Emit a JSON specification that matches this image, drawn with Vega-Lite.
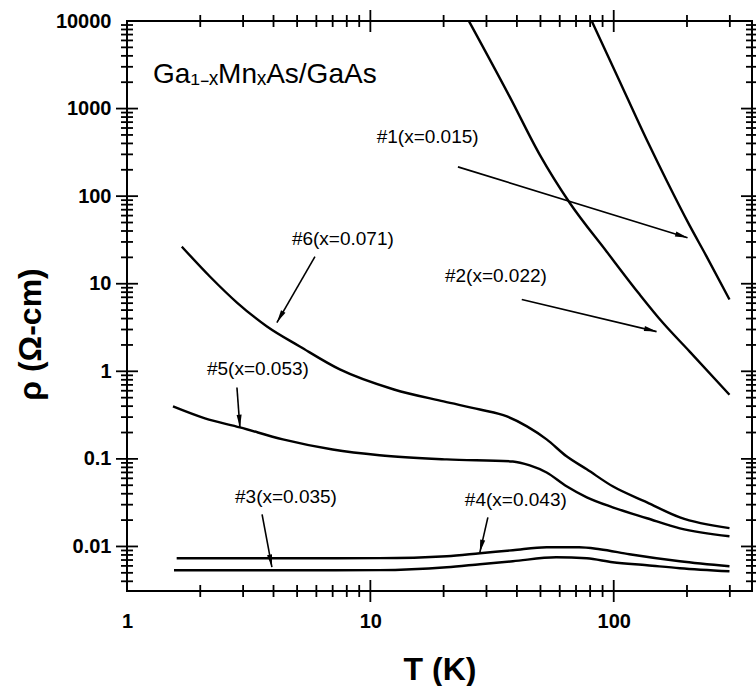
{
  "$schema": "https://vega.github.io/schema/vega-lite/v6.json",
  "width": 625,
  "height": 570,
  "autosize": {"type": "none"},
  "padding": {"left": 127, "top": 21, "right": 4, "bottom": 95},
  "background": "white",
  "config": {
    "view": {"stroke": "black", "strokeWidth": 2},
    "axis": {
      "domain": false, "ticks": false, "tickSize": 0,
      "grid": false, "labelFont": "Liberation Sans", "labelFontWeight": "bold", "labelFontSize": 20,
      "labelColor": "black", "labelFlush": false, "labelOverlap": false, "labelBound": false,
      "titleFont": "Liberation Sans", "titleFontSize": 32, "titleFontWeight": "bold", "titleColor": "black"
    }
  },
  "datasets": {
    "curves": [
      {"s": "1", "T": 81.2, "rho": 10000}, {"s": "1", "T": 103.8, "rho": 2298}, {"s": "1", "T": 137.9, "rho": 417},
      {"s": "1", "T": 165.1, "rho": 149.8}, {"s": "1", "T": 205.2, "rho": 46.0}, {"s": "1", "T": 240.9, "rho": 20.4},
      {"s": "1", "T": 299, "rho": 6.6},
      {"s": "2", "T": 25.4, "rho": 10000}, {"s": "2", "T": 37.4, "rho": 1360}, {"s": "2", "T": 49.7, "rho": 296},
      {"s": "2", "T": 65.9, "rho": 84.1}, {"s": "2", "T": 93.6, "rho": 23.2}, {"s": "2", "T": 127.9, "rho": 7.51},
      {"s": "2", "T": 158.9, "rho": 3.6}, {"s": "2", "T": 205.2, "rho": 1.68}, {"s": "2", "T": 299, "rho": 0.54},
      {"s": "6", "T": 1.68, "rho": 26.5}, {"s": "6", "T": 2.19, "rho": 12.1}, {"s": "6", "T": 2.83, "rho": 6.1},
      {"s": "6", "T": 3.76, "rho": 3.25}, {"s": "6", "T": 5.13, "rho": 1.92}, {"s": "6", "T": 7.49, "rho": 1.05},
      {"s": "6", "T": 12.5, "rho": 0.62}, {"s": "6", "T": 20, "rho": 0.453}, {"s": "6", "T": 28.2, "rho": 0.366},
      {"s": "6", "T": 36.4, "rho": 0.305}, {"s": "6", "T": 44, "rho": 0.235}, {"s": "6", "T": 53, "rho": 0.167},
      {"s": "6", "T": 64, "rho": 0.107}, {"s": "6", "T": 77.5, "rho": 0.076}, {"s": "6", "T": 99, "rho": 0.0486},
      {"s": "6", "T": 137, "rho": 0.0319}, {"s": "6", "T": 187, "rho": 0.0215}, {"s": "6", "T": 299, "rho": 0.0162},
      {"s": "5", "T": 1.545, "rho": 0.397}, {"s": "5", "T": 2.09, "rho": 0.29}, {"s": "5", "T": 2.91, "rho": 0.229},
      {"s": "5", "T": 4.37, "rho": 0.167}, {"s": "5", "T": 7.0, "rho": 0.128}, {"s": "5", "T": 10.9, "rho": 0.11},
      {"s": "5", "T": 20.6, "rho": 0.0986}, {"s": "5", "T": 38.5, "rho": 0.0935}, {"s": "5", "T": 45.2, "rho": 0.0843},
      {"s": "5", "T": 53, "rho": 0.07}, {"s": "5", "T": 64, "rho": 0.0486}, {"s": "5", "T": 77.5, "rho": 0.0364},
      {"s": "5", "T": 99, "rho": 0.028}, {"s": "5", "T": 137, "rho": 0.021}, {"s": "5", "T": 187, "rho": 0.0161},
      {"s": "5", "T": 299, "rho": 0.0131},
      {"s": "4", "T": 1.6, "rho": 0.00733}, {"s": "4", "T": 5, "rho": 0.00733}, {"s": "4", "T": 10.9, "rho": 0.00735},
      {"s": "4", "T": 20.6, "rho": 0.00773}, {"s": "4", "T": 28.2, "rho": 0.00836}, {"s": "4", "T": 38.5, "rho": 0.00906},
      {"s": "4", "T": 53, "rho": 0.0098}, {"s": "4", "T": 72, "rho": 0.0098}, {"s": "4", "T": 87.6, "rho": 0.0093},
      {"s": "4", "T": 116, "rho": 0.00815}, {"s": "4", "T": 187, "rho": 0.00678}, {"s": "4", "T": 299, "rho": 0.00594},
      {"s": "3", "T": 1.56, "rho": 0.00535}, {"s": "3", "T": 5, "rho": 0.00535}, {"s": "3", "T": 10.9, "rho": 0.00537},
      {"s": "3", "T": 20.6, "rho": 0.00579}, {"s": "3", "T": 28.2, "rho": 0.00627}, {"s": "3", "T": 38.5, "rho": 0.00678},
      {"s": "3", "T": 58, "rho": 0.00753}, {"s": "3", "T": 77.5, "rho": 0.00733}, {"s": "3", "T": 99, "rho": 0.0066},
      {"s": "3", "T": 137, "rho": 0.0061}, {"s": "3", "T": 187, "rho": 0.00564}, {"s": "3", "T": 299, "rho": 0.0052}
    ],
    "arrows": [
      {"id": "1", "T1": 22.9, "r1": 216, "T2": 201, "r2": 33.5},
      {"id": "2", "T1": 41.9, "r1": 6.59, "T2": 150, "r2": 2.84},
      {"id": "6", "T1": 5.92, "r1": 20.4, "T2": 4.13, "r2": 3.6},
      {"id": "5", "T1": 2.83, "r1": 0.653, "T2": 2.91, "r2": 0.229},
      {"id": "3", "T1": 3.59, "r1": 0.0233, "T2": 3.94, "r2": 0.0058},
      {"id": "4", "T1": 30.4, "r1": 0.0215, "T2": 28.2, "r2": 0.0086}
    ],
    "heads": [
      {"id": "1", "T": 189, "rho": 35.4, "ang": 107.2},
      {"id": "2", "T": 140.8, "rho": 2.97, "ang": 103.3},
      {"id": "6", "T": 4.27, "rho": 4.23, "ang": 209.9},
      {"id": "5", "T": 2.9, "rho": 0.275, "ang": 175.7},
      {"id": "3", "T": 3.89, "rho": 0.00695, "ang": 169.3},
      {"id": "4", "T": 28.6, "rho": 0.01026, "ang": 192.9}
    ],
    "labels": [
      {"txt": "#1(x=0.015)", "T": 17.2, "rho": 476},
      {"txt": "#2(x=0.022)", "T": 32.8, "rho": 12.4},
      {"txt": "#6(x=0.071)", "T": 7.71, "rho": 32.7},
      {"txt": "#5(x=0.053)", "T": 3.45, "rho": 1.05},
      {"txt": "#3(x=0.035)", "T": 4.5, "rho": 0.0364},
      {"txt": "#4(x=0.043)", "T": 39.6, "rho": 0.0336}
    ],
    "title": [{"txt": "Ga₁₋ₓMnₓAs/GaAs", "T": 1.28, "rho": 1963}],
    "xminor": [{"v": 2}, {"v": 3}, {"v": 4}, {"v": 5}, {"v": 6}, {"v": 7}, {"v": 8}, {"v": 9},
      {"v": 20}, {"v": 30}, {"v": 40}, {"v": 50}, {"v": 60}, {"v": 70}, {"v": 80}, {"v": 90}, {"v": 200}, {"v": 300}],
    "xmajor": [{"v": 10}, {"v": 100}],
    "yminor": [{"v": 0.004}, {"v": 0.005}, {"v": 0.006}, {"v": 0.007}, {"v": 0.008}, {"v": 0.009},
      {"v": 0.02}, {"v": 0.03}, {"v": 0.04}, {"v": 0.05}, {"v": 0.06}, {"v": 0.07}, {"v": 0.08}, {"v": 0.09},
      {"v": 0.2}, {"v": 0.3}, {"v": 0.4}, {"v": 0.5}, {"v": 0.6}, {"v": 0.7}, {"v": 0.8}, {"v": 0.9},
      {"v": 2}, {"v": 3}, {"v": 4}, {"v": 5}, {"v": 6}, {"v": 7}, {"v": 8}, {"v": 9},
      {"v": 20}, {"v": 30}, {"v": 40}, {"v": 50}, {"v": 60}, {"v": 70}, {"v": 80}, {"v": 90},
      {"v": 200}, {"v": 300}, {"v": 400}, {"v": 500}, {"v": 600}, {"v": 700}, {"v": 800}, {"v": 900},
      {"v": 2000}, {"v": 3000}, {"v": 4000}, {"v": 5000}, {"v": 6000}, {"v": 7000}, {"v": 8000}, {"v": 9000}],
    "ymajor": [{"v": 0.01}, {"v": 0.1}, {"v": 1}, {"v": 10}, {"v": 100}, {"v": 1000}]
  },
  "layer": [
    {
      "data": {"name": "curves"},
      "mark": {"type": "line", "clip": true, "color": "black", "strokeWidth": 2.4, "interpolate": "monotone"},
      "encoding": {
        "x": {"field": "T", "type": "quantitative",
          "scale": {"type": "log", "domain": [1, 370], "nice": false},
          "axis": {"orient": "bottom", "title": "T (K)", "titlePadding": 23, "values": [1, 10, 100], "format": "~g",
            "labelPadding": 20}},
        "y": {"field": "rho", "type": "quantitative",
          "scale": {"type": "log", "domain": [0.0031, 10000], "nice": false},
          "axis": {"orient": "left", "title": "ρ (Ω-cm)", "titlePadding": 8, "titleY": 313,
            "values": [0.01, 0.1, 1, 10, 100, 1000, 10000], "format": "~g", "labelPadding": 16}},
        "detail": {"field": "s"}
      }
    },
    {
      "data": {"name": "arrows"},
      "mark": {"type": "rule", "color": "black", "strokeWidth": 1.6},
      "encoding": {
        "x": {"field": "T1", "type": "quantitative", "scale": {"type": "log", "domain": [1, 370], "nice": false}, "axis": null},
        "y": {"field": "r1", "type": "quantitative", "scale": {"type": "log", "domain": [0.0031, 10000], "nice": false}, "axis": null},
        "x2": {"field": "T2"},
        "y2": {"field": "r2"}
      }
    },
    {
      "data": {"name": "heads"},
      "mark": {"type": "point", "filled": true, "color": "black", "opacity": 1, "size": 200,
        "shape": "M0,-1L0.36,0.8L-0.36,0.8Z"},
      "encoding": {
        "x": {"field": "T", "type": "quantitative", "scale": {"type": "log", "domain": [1, 370], "nice": false}, "axis": null},
        "y": {"field": "rho", "type": "quantitative", "scale": {"type": "log", "domain": [0.0031, 10000], "nice": false}, "axis": null},
        "angle": {"field": "ang", "type": "quantitative", "scale": null}
      }
    },
    {
      "data": {"name": "labels"},
      "mark": {"type": "text", "font": "Liberation Sans", "fontSize": 19, "color": "black", "align": "center", "baseline": "middle"},
      "encoding": {
        "x": {"field": "T", "type": "quantitative", "scale": {"type": "log", "domain": [1, 370], "nice": false}, "axis": null},
        "y": {"field": "rho", "type": "quantitative", "scale": {"type": "log", "domain": [0.0031, 10000], "nice": false}, "axis": null},
        "text": {"field": "txt"}
      }
    },
    {
      "data": {"name": "title"},
      "mark": {"type": "text", "font": "Liberation Sans", "fontSize": 28, "color": "black", "align": "left", "baseline": "alphabetic"},
      "encoding": {
        "x": {"field": "T", "type": "quantitative", "scale": {"type": "log", "domain": [1, 370], "nice": false}, "axis": null},
        "y": {"field": "rho", "type": "quantitative", "scale": {"type": "log", "domain": [0.0031, 10000], "nice": false}, "axis": null},
        "text": {"field": "txt"}
      }
    },
    {
      "data": {"name": "xminor"},
      "mark": {"type": "tick", "orient": "vertical", "size": 12, "thickness": 1.8, "color": "black", "opacity": 1},
      "encoding": {
        "x": {"field": "v", "type": "quantitative", "scale": {"type": "log", "domain": [1, 370], "nice": false}, "axis": null},
        "y": {"datum": 0.0031, "type": "quantitative", "scale": {"type": "log", "domain": [0.0031, 10000], "nice": false}, "axis": null}
      }
    },
    {
      "data": {"name": "xminor"},
      "mark": {"type": "tick", "orient": "vertical", "size": 12, "thickness": 1.8, "color": "black", "opacity": 1},
      "encoding": {
        "x": {"field": "v", "type": "quantitative", "scale": {"type": "log", "domain": [1, 370], "nice": false}, "axis": null},
        "y": {"datum": 10000, "type": "quantitative", "scale": {"type": "log", "domain": [0.0031, 10000], "nice": false}, "axis": null}
      }
    },
    {
      "data": {"name": "xmajor"},
      "mark": {"type": "tick", "orient": "vertical", "size": 22, "thickness": 1.8, "color": "black", "opacity": 1},
      "encoding": {
        "x": {"field": "v", "type": "quantitative", "scale": {"type": "log", "domain": [1, 370], "nice": false}, "axis": null},
        "y": {"datum": 0.0031, "type": "quantitative", "scale": {"type": "log", "domain": [0.0031, 10000], "nice": false}, "axis": null}
      }
    },
    {
      "data": {"name": "xmajor"},
      "mark": {"type": "tick", "orient": "vertical", "size": 22, "thickness": 1.8, "color": "black", "opacity": 1},
      "encoding": {
        "x": {"field": "v", "type": "quantitative", "scale": {"type": "log", "domain": [1, 370], "nice": false}, "axis": null},
        "y": {"datum": 10000, "type": "quantitative", "scale": {"type": "log", "domain": [0.0031, 10000], "nice": false}, "axis": null}
      }
    },
    {
      "data": {"name": "yminor"},
      "mark": {"type": "tick", "orient": "horizontal", "size": 12, "thickness": 1.8, "color": "black", "opacity": 1},
      "encoding": {
        "y": {"field": "v", "type": "quantitative", "scale": {"type": "log", "domain": [0.0031, 10000], "nice": false}, "axis": null},
        "x": {"datum": 1, "type": "quantitative", "scale": {"type": "log", "domain": [1, 370], "nice": false}, "axis": null}
      }
    },
    {
      "data": {"name": "yminor"},
      "mark": {"type": "tick", "orient": "horizontal", "size": 12, "thickness": 1.8, "color": "black", "opacity": 1},
      "encoding": {
        "y": {"field": "v", "type": "quantitative", "scale": {"type": "log", "domain": [0.0031, 10000], "nice": false}, "axis": null},
        "x": {"datum": 370, "type": "quantitative", "scale": {"type": "log", "domain": [1, 370], "nice": false}, "axis": null}
      }
    },
    {
      "data": {"name": "ymajor"},
      "mark": {"type": "tick", "orient": "horizontal", "size": 22, "thickness": 1.8, "color": "black", "opacity": 1},
      "encoding": {
        "y": {"field": "v", "type": "quantitative", "scale": {"type": "log", "domain": [0.0031, 10000], "nice": false}, "axis": null},
        "x": {"datum": 1, "type": "quantitative", "scale": {"type": "log", "domain": [1, 370], "nice": false}, "axis": null}
      }
    },
    {
      "data": {"name": "ymajor"},
      "mark": {"type": "tick", "orient": "horizontal", "size": 22, "thickness": 1.8, "color": "black", "opacity": 1},
      "encoding": {
        "y": {"field": "v", "type": "quantitative", "scale": {"type": "log", "domain": [0.0031, 10000], "nice": false}, "axis": null},
        "x": {"datum": 370, "type": "quantitative", "scale": {"type": "log", "domain": [1, 370], "nice": false}, "axis": null}
      }
    }
  ],
  "resolve": {"axis": {"x": "independent", "y": "independent"}}
}
